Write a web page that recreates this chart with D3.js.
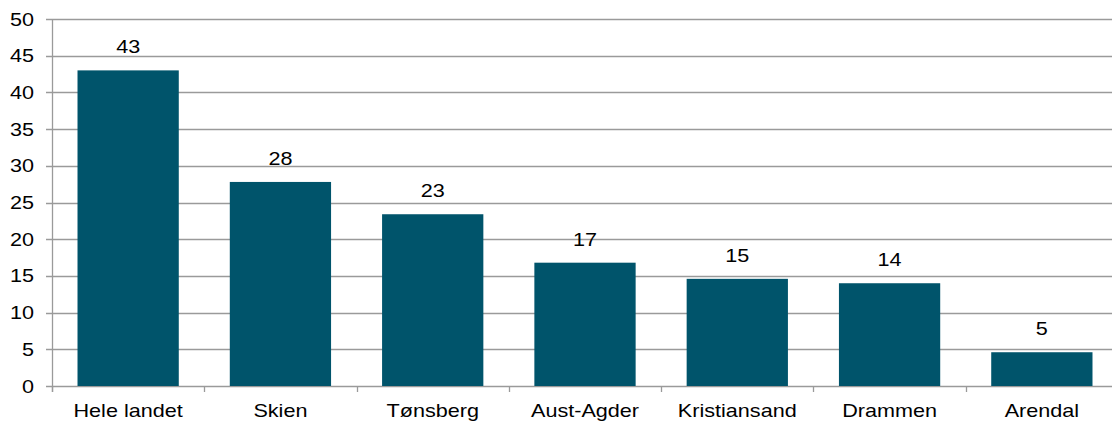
<!DOCTYPE html>
<html>
<head>
<meta charset="utf-8">
<script src="https://cdn.jsdelivr.net/npm/d3@7"></script>
<style>
  body { margin: 0; background: #fff; }
  svg text { font-family: "Liberation Sans", Arial, sans-serif; fill: #000; font-size: 18px; }
</style>
</head>
<body>
<svg id="chart" width="1112" height="423"></svg>
<script>
// data
const categories = ['Hele landet', 'Skien', 'Tønsberg', 'Aust-Agder', 'Kristiansand', 'Drammen', 'Arendal'];
const values = [43, 27.8, 23.4, 16.8, 14.6, 14.0, 4.6];
const labels = ['43', '28', '23', '17', '15', '14', '5'];
const yTicks = [0, 5, 10, 15, 20, 25, 30, 35, 40, 45, 50];

const svg = d3.select('#chart');
const plotLeft = 52, plotRight = 1118, plotTop = 19, plotBottom = 386;
const stretch = 1.2; // text in the reference is slightly wider than tall

const x = d3.scaleBand()
  .domain(categories)
  .range([plotLeft, plotRight])
  .paddingInner(0.335)
  .paddingOuter(0.1675);

const y = d3.scaleLinear().domain([0, 50]).range([plotBottom, plotTop]);

const place = (px, py) => `translate(${px},${py}) scale(${stretch},1)`;

// gridlines
svg.append('g')
  .selectAll('line')
  .data(yTicks)
  .enter()
  .append('line')
  .attr('x1', plotLeft - 6)
  .attr('x2', 1112)
  .attr('y1', d => Math.round(y(d)) + 0.5)
  .attr('y2', d => Math.round(y(d)) + 0.5)
  .attr('stroke', '#9a9a9a')
  .attr('stroke-width', 1.3);

// y labels
svg.append('g')
  .selectAll('text')
  .data(yTicks)
  .enter()
  .append('text')
  .attr('transform', d => place(34, y(d) + 6.5))
  .attr('text-anchor', 'end')
  .text(d => d);

// bars
svg.append('g')
  .selectAll('rect')
  .data(values)
  .enter()
  .append('rect')
  .attr('x', (d, i) => x(categories[i]))
  .attr('width', x.bandwidth())
  .attr('y', d => y(d))
  .attr('height', d => y(0) - y(d))
  .attr('fill', '#00546b');

// value labels
svg.append('g')
  .selectAll('text')
  .data(values)
  .enter()
  .append('text')
  .attr('transform', (d, i) => place(x(categories[i]) + x.bandwidth() / 2, y(d) - 17))
  .attr('text-anchor', 'middle')
  .text((d, i) => labels[i]);

// y axis line
svg.append('line')
  .attr('x1', plotLeft + 0.5).attr('x2', plotLeft + 0.5)
  .attr('y1', plotTop).attr('y2', plotBottom + 6)
  .attr('stroke', '#9a9a9a').attr('stroke-width', 1.3);

// x axis ticks (band boundaries)
const step = x.step();
const bounds = d3.range(categories.length + 1).map(i => plotLeft + i * step);
svg.append('g')
  .selectAll('line')
  .data(bounds)
  .enter()
  .append('line')
  .attr('x1', d => Math.round(d) + 0.5)
  .attr('x2', d => Math.round(d) + 0.5)
  .attr('y1', plotBottom)
  .attr('y2', plotBottom + 6)
  .attr('stroke', '#9a9a9a')
  .attr('stroke-width', 1.3);

// x labels
svg.append('g')
  .selectAll('text')
  .data(categories)
  .enter()
  .append('text')
  .attr('transform', d => place(x(d) + x.bandwidth() / 2, 417))
  .attr('text-anchor', 'middle')
  .text(d => d);
</script>
</body>
</html>
